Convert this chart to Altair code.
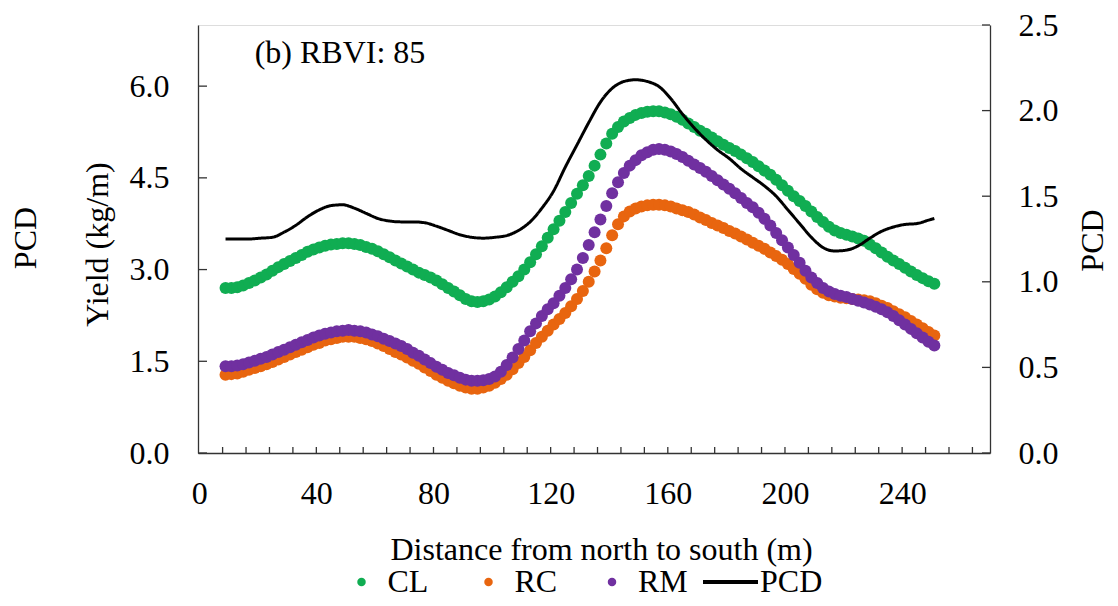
import altair as alt
import pandas as pd

# ---------------- data ----------------
dist = [9, 11, 13, 15, 17, 19, 21, 23, 25, 27,
        29, 31, 33, 35, 37, 39, 41, 43, 45, 47,
        49, 51, 53, 55, 57, 59, 61, 63, 65, 67,
        69, 71, 73, 75, 77, 79, 81, 83, 85, 87,
        89, 91, 93, 95, 97, 99, 101, 103, 105, 107,
        109, 111, 113, 115, 117, 119, 121, 123, 125, 127,
        129, 131, 133, 135, 137, 139, 141, 143, 145, 147,
        149, 151, 153, 155, 157, 159, 161, 163, 165, 167,
        169, 171, 173, 175, 177, 179, 181, 183, 185, 187,
        189, 191, 193, 195, 197, 199, 201, 203, 205, 207,
        209, 211, 213, 215, 217, 219, 221, 223, 225, 227,
        229, 231, 233, 235, 237, 239, 241, 243, 245, 247,
        249, 251]

cl = [2.70, 2.70, 2.71, 2.74, 2.78, 2.82, 2.87, 2.92, 2.98, 3.04,
      3.09, 3.14, 3.19, 3.24, 3.29, 3.33, 3.36, 3.39, 3.41, 3.42,
      3.43, 3.43, 3.42, 3.40, 3.37, 3.34, 3.30, 3.25, 3.20, 3.15,
      3.10, 3.05, 3.00, 2.95, 2.91, 2.87, 2.82, 2.76, 2.70, 2.64,
      2.58, 2.52, 2.48, 2.47, 2.48, 2.51, 2.56, 2.63, 2.71, 2.80,
      2.89, 3.00, 3.12, 3.25, 3.38, 3.52, 3.66, 3.80, 3.94, 4.09,
      4.24, 4.38, 4.53, 4.70, 4.88, 5.06, 5.22, 5.33, 5.42, 5.48,
      5.53, 5.56, 5.58, 5.59, 5.59, 5.57, 5.54, 5.50, 5.45, 5.39,
      5.33, 5.27, 5.22, 5.16, 5.10, 5.04, 4.99, 4.94, 4.88, 4.82,
      4.76, 4.69, 4.62, 4.55, 4.47, 4.38, 4.29, 4.20, 4.12, 4.04,
      3.95, 3.86, 3.78, 3.70, 3.64, 3.60, 3.57, 3.54, 3.51, 3.47,
      3.41, 3.35, 3.28, 3.21, 3.15, 3.09, 3.03, 2.97, 2.91, 2.86,
      2.81, 2.77]

rc = [1.28, 1.29, 1.30, 1.33, 1.36, 1.39, 1.42, 1.45, 1.49, 1.53,
      1.57, 1.61, 1.65, 1.69, 1.73, 1.77, 1.80, 1.84, 1.86, 1.88,
      1.90, 1.90, 1.90, 1.88, 1.86, 1.83, 1.79, 1.75, 1.70, 1.65,
      1.61, 1.56, 1.51, 1.46, 1.40, 1.34, 1.28, 1.23, 1.18, 1.14,
      1.10, 1.07, 1.05, 1.05, 1.07, 1.10, 1.15, 1.21, 1.28, 1.37,
      1.47, 1.57, 1.68, 1.80, 1.90, 2.00, 2.10, 2.19, 2.29, 2.40,
      2.52, 2.65, 2.80, 2.97, 3.15, 3.35, 3.56, 3.74, 3.87, 3.95,
      4.00, 4.03, 4.05, 4.06, 4.06, 4.05, 4.03, 4.00, 3.97, 3.94,
      3.90, 3.85, 3.81, 3.76, 3.72, 3.68, 3.63, 3.59, 3.54, 3.49,
      3.44, 3.39, 3.34, 3.28, 3.22, 3.16, 3.09, 3.01, 2.93, 2.85,
      2.75, 2.68, 2.62, 2.58, 2.56, 2.54, 2.53, 2.52, 2.51, 2.50,
      2.48, 2.45, 2.41, 2.37, 2.32, 2.27, 2.22, 2.16, 2.10, 2.04,
      1.98, 1.92]

rm = [1.42, 1.42, 1.43, 1.45, 1.48, 1.51, 1.54, 1.57, 1.61, 1.65,
      1.69, 1.73, 1.77, 1.81, 1.85, 1.89, 1.92, 1.95, 1.97, 1.99,
      2.00, 2.01, 2.00, 1.99, 1.97, 1.94, 1.91, 1.87, 1.83, 1.79,
      1.75, 1.70, 1.64, 1.59, 1.53, 1.47, 1.41, 1.36, 1.31, 1.27,
      1.23, 1.20, 1.18, 1.18, 1.19, 1.21, 1.25, 1.33, 1.44, 1.56,
      1.70, 1.84, 1.99, 2.12, 2.24, 2.35, 2.45, 2.57, 2.70, 2.84,
      3.00, 3.19, 3.40, 3.61, 3.82, 4.04, 4.25, 4.43, 4.58, 4.70,
      4.79, 4.87, 4.92, 4.96, 4.97, 4.96, 4.93, 4.89, 4.84, 4.78,
      4.72, 4.66, 4.60, 4.53, 4.46, 4.39, 4.32, 4.25, 4.17, 4.09,
      4.02, 3.93, 3.83, 3.72, 3.60, 3.48, 3.36, 3.24, 3.11, 2.98,
      2.87, 2.78, 2.70, 2.64, 2.60, 2.57, 2.55, 2.52, 2.49, 2.46,
      2.43, 2.39, 2.35, 2.30, 2.24, 2.17, 2.10, 2.03, 1.96, 1.89,
      1.82, 1.76]

pcd_dist = [9, 13, 17, 21, 25, 29, 33, 37, 41, 45,
            49, 53, 57, 61, 65, 69, 73, 77, 81, 85,
            89, 93, 97, 101, 105, 109, 113, 117, 121, 125,
            129, 133, 137, 141, 145, 149, 153, 157, 161, 165,
            169, 173, 177, 181, 185, 189, 193, 197, 201, 205,
            209, 213, 217, 221, 225, 229, 233, 237, 241, 245,
            249, 251]

pcd = [1.25, 1.25, 1.25, 1.255, 1.26, 1.29, 1.33, 1.38, 1.42, 1.445,
       1.45, 1.43, 1.40, 1.37, 1.355, 1.35, 1.35, 1.345, 1.325, 1.30,
       1.275, 1.26, 1.255, 1.26, 1.27, 1.30, 1.35, 1.43, 1.53, 1.67,
       1.80, 1.93, 2.05, 2.13, 2.17, 2.18, 2.17, 2.14, 2.07, 1.98,
       1.90, 1.83, 1.77, 1.72, 1.66, 1.61, 1.56, 1.50, 1.42, 1.34,
       1.26, 1.20, 1.18, 1.185, 1.21, 1.255, 1.295, 1.32, 1.335, 1.34,
       1.36, 1.37]

CL_COLOR, RC_COLOR, RM_COLOR = "#10AD52", "#E8650F", "#7030A0"

x_labels = [0, 40, 80, 120, 160, 200, 240]
x_minor = [8, 16, 24, 32, 40, 48, 56, 64, 72, 80, 88, 96, 104, 112, 120,
           128, 136, 144, 152, 160, 168, 176, 184, 192, 200, 208, 216,
           224, 232, 240, 248, 256, 264]
left_ticks = [0.0, 1.5, 3.0, 4.5, 6.0]
right_ticks = [0.0, 0.5, 1.0, 1.5, 2.0, 2.5]

# ---------------- styling ----------------
FONT = "Liberation Serif"
FS = 32
W, H = 792, 428
AXIS_COLOR = "#333333"
LEG_Y = 541

cl_df = pd.DataFrame({"dist": dist, "val": cl, "series": "CL"})
rc_df = pd.DataFrame({"dist": dist, "val": rc, "series": "RC"})
rm_df = pd.DataFrame({"dist": dist, "val": rm, "series": "RM"})
pcd_df = pd.DataFrame({"dist": pcd_dist, "pcd": pcd, "series": "PCD"})
xminor_df = pd.DataFrame({"dist": x_minor})

x_scale = alt.Scale(domain=[-0.4, 270], nice=False, zero=False)
yl_scale = alt.Scale(domain=[0, 7], nice=False)
yr_scale = alt.Scale(domain=[0, 2.5], nice=False)

# the same axis specs are given to every layer that shares a scale
x_axis = alt.Axis(values=x_labels, format="d", labelPadding=25,
                  title="Distance from north to south (m)",
                  titleX=403, titleY=96, titleBaseline="middle")
x_enc = alt.X("dist:Q", scale=x_scale, axis=x_axis)
yl_axis = alt.Axis(orient="left", values=left_ticks, format=".1f", labelPadding=29,
                   title="Yield (kg/m)", titleX=-101, titleY=219,
                   titleAngle=270, titleAlign="center", titleBaseline="middle")
yl_enc = alt.Y("val:Q", scale=yl_scale, axis=yl_axis)


def dot_legend(x):
    return alt.Legend(title=None, orient="none", legendX=x, legendY=LEG_Y,
                      labelOffset=10, symbolType="circle", symbolSize=72,
                      symbolStrokeWidth=0, padding=0)


pt = dict(filled=True, size=144, opacity=1, shape="circle")

cl_pts = alt.Chart(cl_df).mark_point(**pt).encode(
    x=x_enc, y=yl_enc,
    fill=alt.Fill("series:N", scale=alt.Scale(domain=["CL"], range=[CL_COLOR]),
                  legend=dot_legend(147.5)))

rc_pts = alt.Chart(rc_df).mark_point(**pt).encode(
    x=x_enc, y=yl_enc,
    color=alt.Color("series:N", scale=alt.Scale(domain=["RC"], range=[RC_COLOR]),
                    legend=dot_legend(274.5)))

rm_pts = alt.Chart(rm_df).mark_point(color=RM_COLOR, **pt).encode(
    x=x_enc, y=yl_enc,
    opacity=alt.Opacity("series:N", scale=alt.Scale(domain=["RM"], range=[1]),
                        legend=dot_legend(398)))

pcd_line = alt.Chart(pcd_df).mark_line(color="black", strokeWidth=3, interpolate="monotone").encode(
    x=x_enc,
    y=alt.Y("pcd:Q", scale=yr_scale,
            axis=alt.Axis(orient="right", values=right_ticks, format=".1f", labelPadding=28,
                          title="PCD", titleX=102, titleY=215, titleAngle=270,
                          titleAlign="center", titleBaseline="middle")),
    strokeDash=alt.StrokeDash("series:N", scale=alt.Scale(domain=["PCD"], range=[[1, 0]]),
                              legend=alt.Legend(title=None, orient="none", legendX=503,
                                                legendY=LEG_Y - 13.5, symbolType="stroke",
                                                symbolSize=3025, symbolStrokeWidth=4,
                                                symbolStrokeColor="black", labelOffset=0,
                                                padding=0)),
)

xt = alt.Chart(xminor_df).mark_rule(color=AXIS_COLOR, strokeWidth=1.3).encode(
    x=x_enc, y=alt.value(H), y2=alt.value(H - 6))

ylt = alt.Chart(pd.DataFrame({"v": left_ticks})).mark_rule(color=AXIS_COLOR, strokeWidth=1.3).encode(
    y=alt.Y("v:Q", scale=yl_scale, axis=None), x=alt.value(0), x2=alt.value(9))

yrt = alt.Chart(pd.DataFrame({"v": right_ticks})).mark_rule(color=AXIS_COLOR, strokeWidth=1.3).encode(
    y=alt.Y("v:Q", scale=yr_scale, axis=None), x=alt.value(W), x2=alt.value(W - 8))

label_b = alt.Chart(pd.DataFrame({"t": ["(b) RBVI: 85"]})).mark_text(
    font=FONT, fontSize=FS, color="black", align="left", baseline="middle").encode(
    text="t:N", x=alt.value(56.7), y=alt.value(28))

label_pcd_left = alt.Chart(pd.DataFrame({"t": ["PCD"]})).mark_text(
    font=FONT, fontSize=FS, color="black", align="center", baseline="middle", angle=270).encode(
    text="t:N", x=alt.value(-172), y=alt.value(213))

left_part = alt.layer(cl_pts, rc_pts, rm_pts)

chart = alt.layer(left_part, pcd_line, xt, ylt, yrt, label_b, label_pcd_left).resolve_scale(
    y="independent"
).properties(
    width=W, height=H,
    padding={"left": 190, "top": 17, "right": 120, "bottom": 145},
    autosize=alt.AutoSizeParams(type="none"),
).configure_view(stroke=None).configure(font=FONT, background="white").configure_axis(
    labelFont=FONT, labelFontSize=FS, labelColor="black",
    titleFont=FONT, titleFontSize=FS, titleColor="black", titleFontWeight="normal",
    domainColor=AXIS_COLOR, domainWidth=1.3, ticks=False, grid=False,
).configure_legend(
    labelFont=FONT, labelFontSize=FS, labelColor="black",
)

chart.save("out.html", embed_options={"renderer": "svg", "actions": False})
